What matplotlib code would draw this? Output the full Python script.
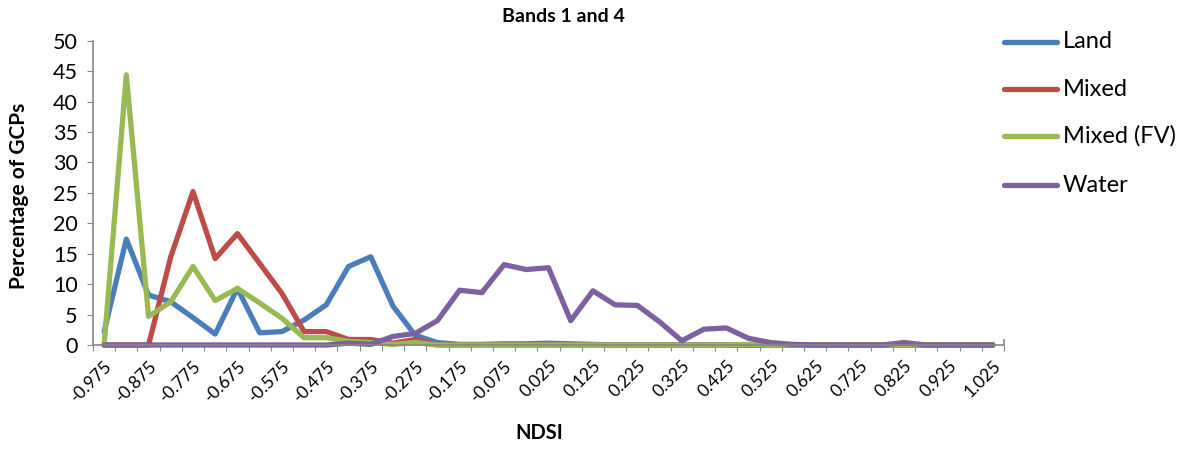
import numpy as np
import matplotlib
matplotlib.use("Agg")
import matplotlib.pyplot as plt
from matplotlib.lines import Line2D

plt.rcParams['font.family'] = ['Lato', 'DejaVu Sans']

# NDSI bin centres (category axis)
ndsi = [round(-0.975 + 0.05 * i, 3) for i in range(41)]

land = [2.2, 17.4, 8.2, 7.1, 4.5, 1.8, 9.3, 2.0, 2.2, 4.1,
        6.6, 12.9, 14.5, 6.4, 1.6, 0.4, 0.1, 0.1, 0.2, 0.2,
        0.3, 0.2, 0.1, 0, 0, 0, 0, 0, 0, 0,
        0, 0, 0, 0, 0, 0, 0, 0, 0, 0, 0]
mixed = [0, 0, 0, 14.5, 25.2, 14.2, 18.3, 13.4, 8.5, 2.2,
         2.2, 0.9, 0.9, 0.3, 0.9, 0, 0, 0, 0, 0,
         0, 0, 0, 0, 0, 0, 0, 0, 0, 0,
         0, 0, 0, 0, 0, 0, 0, 0, 0, 0, 0]
mixed_fv = [0, 44.4, 4.7, 7.1, 12.9, 7.3, 9.3, 6.9, 4.4, 1.2,
            1.2, 0.6, 0.4, 0.1, 0.4, 0, 0, 0, 0, 0,
            0, 0, 0, 0, 0, 0, 0, 0, 0, 0.1,
            0, 0, 0, 0, 0, 0, 0, 0, 0, 0, 0]
water = [0, 0, 0, 0, 0, 0, 0, 0, 0, 0,
         0, 0.3, 0.1, 1.4, 1.9, 4.0, 9.0, 8.6, 13.2, 12.4,
         12.7, 4.0, 8.9, 6.6, 6.5, 3.8, 0.7, 2.6, 2.8, 1.1,
         0.4, 0.1, 0, 0, 0, 0, 0.4, 0, 0, 0, 0]

series = [("Land", land, "#4A7EBB"),
          ("Mixed", mixed, "#BE4B48"),
          ("Mixed (FV)", mixed_fv, "#98B954"),
          ("Water", water, "#7D60A0")]

W, H = 1193, 449
fig = plt.figure(figsize=(W / 100, H / 100), dpi=100)
ax = fig.add_axes([93 / W, 1 - 345 / H, (1004 - 93) / W, (345 - 40.7) / H])

x = np.arange(len(ndsi))
for name, vals, col in series:
    ax.plot(x, vals, color=col, lw=3.8, solid_joinstyle='round',
            solid_capstyle='round', label=name, clip_on=False)

ax.set_xlim(-0.5, len(ndsi) - 0.5)
ax.set_ylim(0, 50)
ax.set_yticks(np.arange(0, 51, 5))

# tick marks between categories, labels on every other category
ax.set_xticks(np.arange(-0.5, len(ndsi), 1))
ax.set_xticklabels([])
lab_pos = x[::2]
ax.set_xticks(lab_pos, minor=True)
ax.set_xticklabels([f"{ndsi[i]:.3f}" for i in lab_pos], minor=True)
ax.tick_params(axis='x', which='minor', length=0, labelsize=12.5, pad=9)
for t in ax.get_xticklabels(minor=True):
    t.set_rotation(45)
    t.set_ha('right')
    t.set_rotation_mode('anchor')

gray = "#868686"
ax.tick_params(axis='x', which='major', direction='out', length=4, color=gray)
ax.tick_params(axis='y', direction='out', length=4, color=gray, labelsize=15.5, pad=7)
for s in ('top', 'right'):
    ax.spines[s].set_visible(False)
for s in ('left', 'bottom'):
    ax.spines[s].set_color(gray)
    ax.spines[s].set_linewidth(1.2)
# small closing tick at the right end of the category axis
ax.plot([1.0, 1.0], [0, 0.018], transform=ax.transAxes, color=gray,
        lw=1.2, clip_on=False)

fig.text(563 / W, 1 - 16 / H, "Bands 1 and 4", ha='center', va='center',
         fontsize=14, fontweight='bold')
fig.text(539 / W, 1 - 433 / H, "NDSI", ha='center', va='center',
         fontsize=14.5, fontweight='bold')
fig.text(19 / W, 1 - 196 / H, "Percentage of GCPs", ha='center', va='center',
         rotation=90, fontsize=15, fontweight='bold')

# legend entries on the right
rows = [42, 89, 136, 185]
for (name, vals, col), yy in zip(series, rows):
    fig.add_artist(Line2D([1004 / W, 1057 / W], [1 - yy / H, 1 - yy / H],
                          color=col, lw=3.8, solid_capstyle='round'))
    fig.text(1063 / W, 1 - yy / H, name, ha='left', va='center', fontsize=17)

fig.savefig("out.png", dpi=100)
